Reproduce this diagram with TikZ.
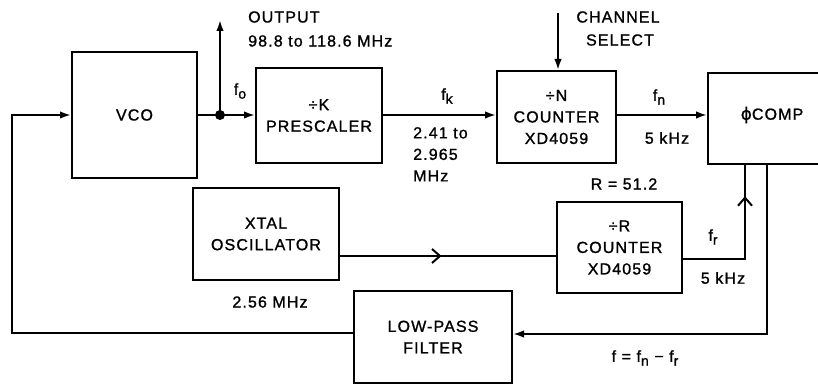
\documentclass[tikz,border=0pt]{standalone}
\usepackage{fontspec}
\setmainfont{Liberation Sans}[LetterSpace=7,FakeBold=1.2]
\newfontfamily\dejavu{DejaVu Sans}[FakeBold=1.2]
\usetikzlibrary{arrows.meta,decorations.markings}
\newcommand{\sbs}[1]{\raisebox{-0.45ex}{\fontsize{14}{14}\selectfont #1}}
\begin{document}
\begin{tikzpicture}[x=1pt,y=-1pt,
  every node/.style={font=\fontsize{16}{21.5}\selectfont},
  blk/.style={draw,line width=2pt,rectangle,inner sep=0pt,align=center},
  wire/.style={line width=2pt},
  arr/.style={wire,-{Latex[length=11pt,width=7.5pt]}},
  lbl/.style={inner sep=0pt,align=left}]
\useasboundingbox (0,0) rectangle (818,385);
\clip (0,0) rectangle (818,385);
% blocks
\node[blk,minimum width=125pt,minimum height=126pt] (vco) at (134.5,115) {VCO};
\node[blk,minimum width=126pt,minimum height=95pt] (pre) at (319,115.5) {÷K\\PRESCALER};
\node[blk,minimum width=119pt,minimum height=92pt] (ncnt) at (556.5,117) {÷N\\COUNTER\\XD4059};
\node[blk,minimum width=130pt,minimum height=91pt,anchor=north west] (comp) at (707,72) {};
\node (comptxt) at (772,115) {{\dejavu\fontsize{17}{17}\selectfont ϕ}COMP};
\node[blk,minimum width=146pt,minimum height=92pt] (xtal) at (266,234) {XTAL\\OSCILLATOR};
\node[blk,minimum width=125pt,minimum height=91pt] (rcnt) at (619.5,247.5) {÷R\\COUNTER\\XD4059};
\node[blk,minimum width=158pt,minimum height=92pt] (lpf) at (433,337) {LOW-PASS\\FILTER};
% junction
\coordinate (dot) at (220,115);
\fill (dot) circle (5pt);
\coordinate (out) at (220,20);
\coordinate (chs) at (558,13);
\coordinate (fbl) at (12,333);
\coordinate (fbt) at (12,115);
\coordinate (frc) at (745,259);
\coordinate (lpc) at (767,334);
% connectors
\draw[arr] (lpf.west |- fbl) -- (fbl) -- (fbt) -- (vco.west |- fbt);
\draw[wire] (vco.east |- dot) -- (dot);
\draw[arr] (dot) -- (pre.west |- dot);
\draw[arr] (dot) -- (out);
\draw[arr] (pre.east |- 0,115) -- (ncnt.west |- 0,115);
\draw[arr] (chs) -- (ncnt.north -| chs);
\draw[arr] (ncnt.east |- 0,115) -- (comp.west |- 0,115);
\draw[wire,postaction={decorate},decoration={markings,mark=at position 0.47 with {\arrow[line width=2pt]{Straight Barb[length=8pt,width=14pt]}}}]
  (xtal.east |- 0,256) -- (rcnt.west |- 0,256);
\draw[wire,postaction={decorate},decoration={markings,mark=at position 0.8 with {\arrow[line width=2pt]{Straight Barb[length=8pt,width=14pt]}}}]
  (rcnt.east |- frc) -- (frc) -- (comp.south -| frc);
\draw[arr] (comp.south -| lpc) -- (lpc) -- (lpf.east |- lpc);
% labels
\node[lbl,anchor=west] (outl) at (248,17) {OUTPUT};
\node[lbl,anchor=west] (outf) at (248,41) {98.8 to 118.6 MHz};
\node[lbl] (fo) at (240,91) {f\sbs{o}};
\node[lbl] (fk) at (447,96) {f\sbs{k}};
\node[lbl,anchor=north west,align=left] (fkr) at (413,127) {2.41 to\\2.965\\MHz};
\node[lbl] (ch1) at (618,17) {CHANNEL};
\node[lbl] (ch2) at (620,40) {SELECT};
\node[lbl] (fn) at (659,97) {f\sbs{n}};
\node[lbl] (fn5) at (667,138) {5 kHz};
\node[lbl] (rr) at (624,184) {R = 51.2};
\node[lbl] (xf) at (270,302) {2.56 MHz};
\node[lbl] (fr) at (713,237) {f\sbs{r}};
\node[lbl] (fr5) at (723,278) {5 kHz};
\node[lbl] (fdiff) at (645,358) {f = f\sbs{n} − f\sbs{r}};
\end{tikzpicture}
\end{document}
